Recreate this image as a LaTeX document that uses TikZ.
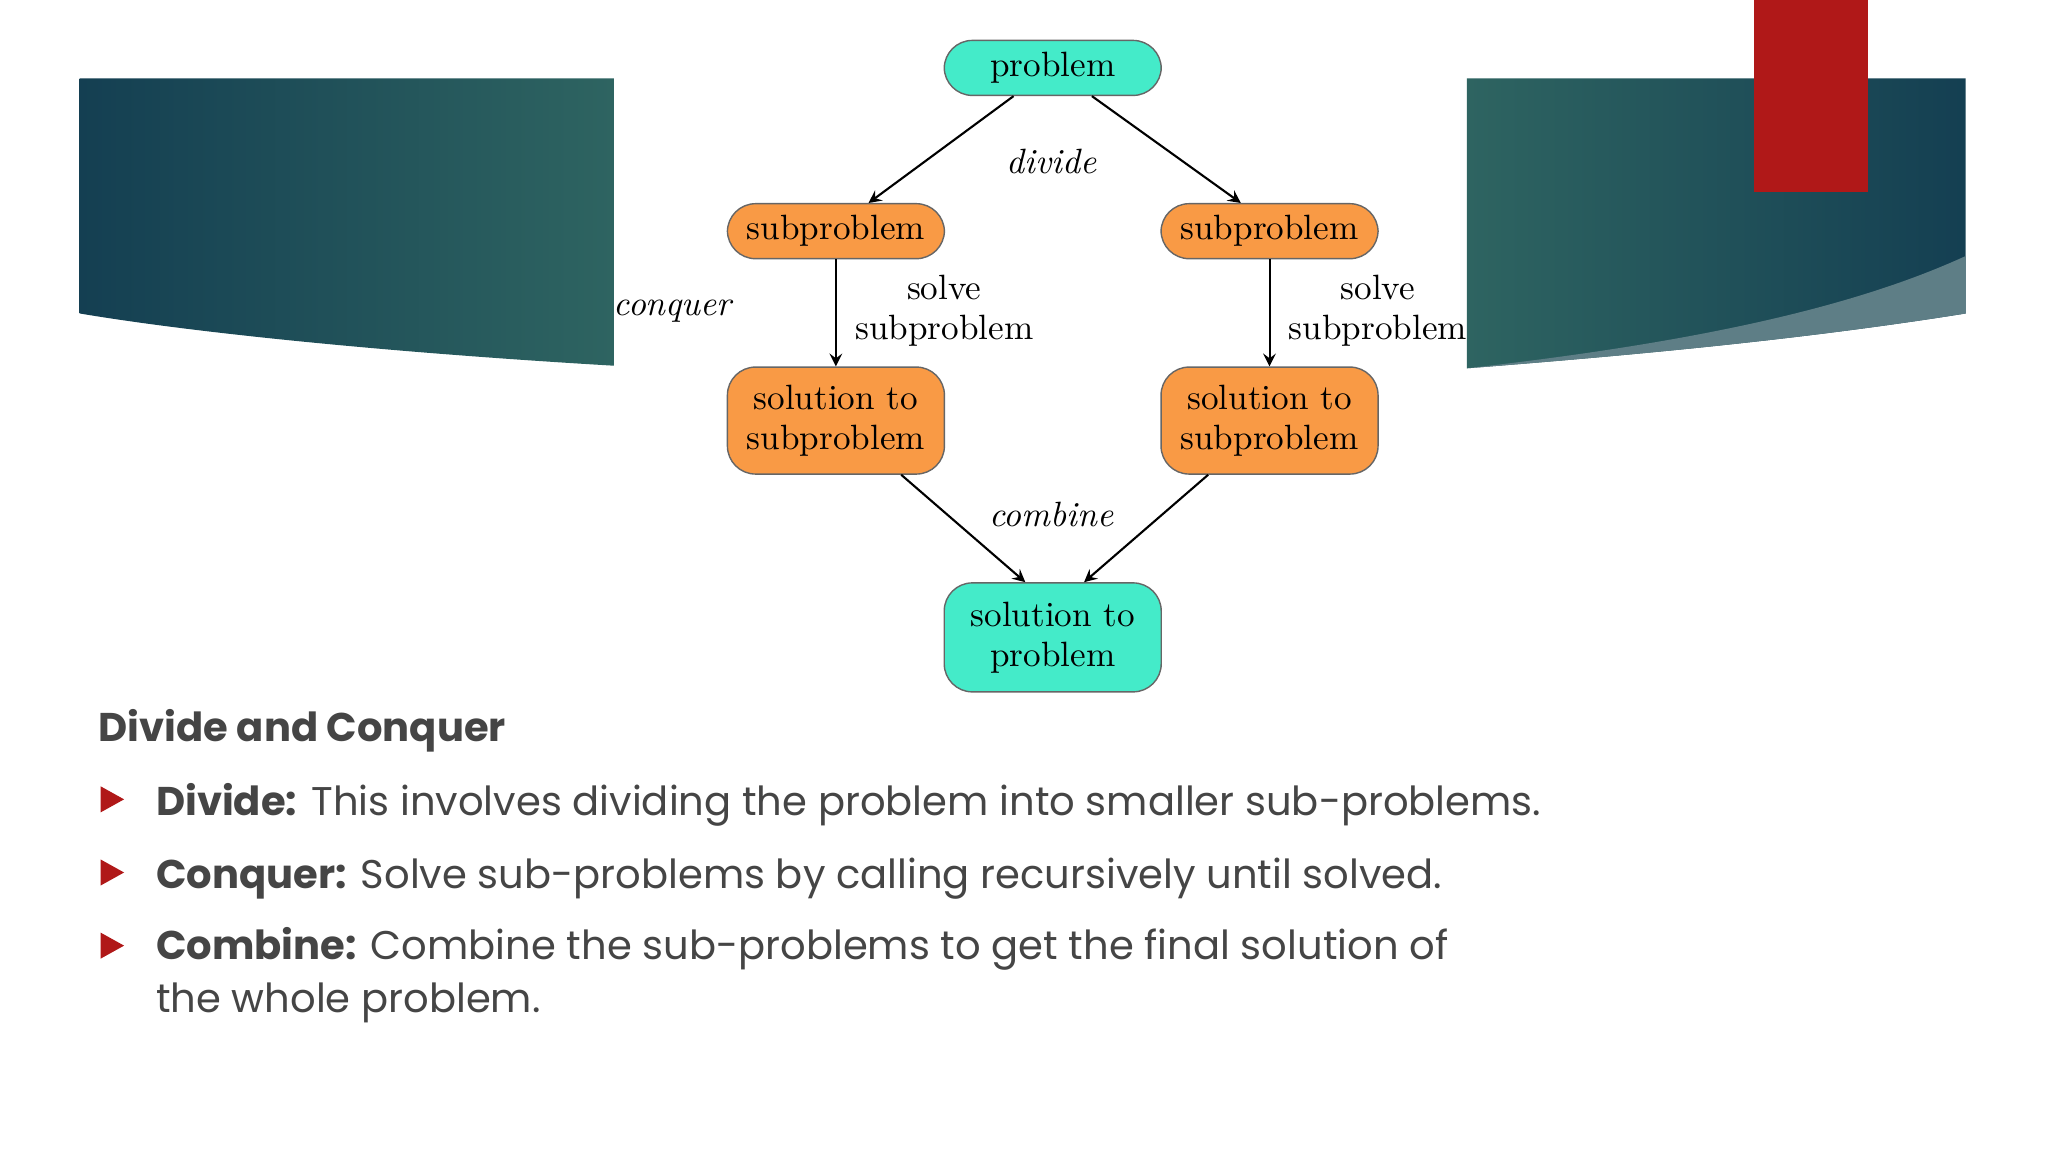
\documentclass[tikz,border=0pt]{standalone}
\usepackage{fontspec}
\newfontfamily\slide{Poppins}
\usetikzlibrary{calc}
\definecolor{teal1}{HTML}{143F52}
\definecolor{teal2}{HTML}{2E6461}
\definecolor{band}{HTML}{5E7E86}
\definecolor{redbar}{HTML}{B01818}
\definecolor{aqua}{HTML}{44EBC9}
\definecolor{orng}{HTML}{F99A45}
\definecolor{txt}{HTML}{454545}
\begin{document}
\begin{tikzpicture}[x=0.01306cm,y=-0.01306cm,>=stealth,
  box/.style={draw=black!60,rounded corners=8pt,minimum width=2.17cm,
    align=center,font=\fontsize{10}{11.3}\selectfont,inner sep=2pt},
  top/.style={box,fill=aqua},
  sub/.style={box,fill=orng},
  lab/.style={font=\fontsize{10}{11.3}\selectfont\itshape},
  note/.style={font=\fontsize{10}{11.3}\selectfont,align=center},
  arr/.style={->,semithick},
  bul/.style={fill=redbar},
  line/.style={anchor=base west,inner sep=0pt,text=txt,font=\slide\fontsize{11.4}{14}\selectfont}]
\useasboundingbox (0,0) rectangle (1568,882);
\fill[white] (0,0) rectangle (1568,882);
% decorative shapes
\shade[left color=teal1,right color=teal2] (61,60) -- (470,60) -- (470,280) .. controls (300,270) and (150,255) .. (61,240) -- cycle;
\shade[left color=teal2,right color=teal1] (1123,60) -- (1505,60) -- (1505,240) .. controls (1380,260) and (1250,272) .. (1123,282) -- cycle;
\fill[band] (1123,282) .. controls (1300,262) and (1420,235) .. (1505,196) -- (1505,240) .. controls (1380,260) and (1250,272) .. (1123,282) -- cycle;
\fill[redbar] (1343,0) rectangle (1430,147);
% diagram
\node[top,minimum height=0.55cm] (p) at (806,52) {problem};
\node[sub,minimum height=0.55cm] (sl) at (640,177) {subproblem};
\node[sub,minimum height=0.55cm] (sr) at (972,177) {subproblem};
\node[sub,minimum height=1.07cm] (ql) at (640,322) {solution to\\subproblem};
\node[sub,minimum height=1.07cm] (qr) at (972,322) {solution to\\subproblem};
\node[top,minimum height=1.09cm] (s) at (806,488) {solution to\\problem};
\draw[arr] ($(p.south)+(-30,0)$) -- ($(sl.north)+(25,0)$);
\draw[arr] ($(p.south)+(30,0)$) -- ($(sr.north)+(-22,0)$);
\draw[arr] (sl) -- (ql);
\draw[arr] (sr) -- (qr);
\draw[arr] ($(ql.south)+(50,0)$) -- ($(s.north)+(-21,0)$);
\draw[arr] ($(qr.south)+(-47,0)$) -- ($(s.north)+(24,0)$);
\node[lab] (ld) at (805,124) {divide};
\node[lab] (lc) at (805,394) {combine};
\node[lab] (lq) at (515,238) {conquer};
\node[note] (nl) at (723,238) {solve\\subproblem};
\node[note] (nr) at (1055,238) {solve\\subproblem};
% text
\node[line,font=\slide\bfseries\fontsize{11.4}{14}\selectfont] (h) at (75,568) {Divide and Conquer};
\node[line] (t1) at (119,624) {\textbf{Divide:} This involves dividing the problem into smaller sub-problems.};
\node[line] (t2) at (119,680) {\textbf{Conquer:} Solve sub-problems by calling recursively until solved.};
\node[line] (t3) at (119,735) {\textbf{Combine:} Combine the sub-problems to get the final solution of};
\node[line] (t4) at (119,775) {the whole problem.};
\foreach \y in {612,668,724} \fill[bul] (77,\y-10) -- (95,\y) -- (77,\y+10) -- cycle;
\end{tikzpicture}
\end{document}
